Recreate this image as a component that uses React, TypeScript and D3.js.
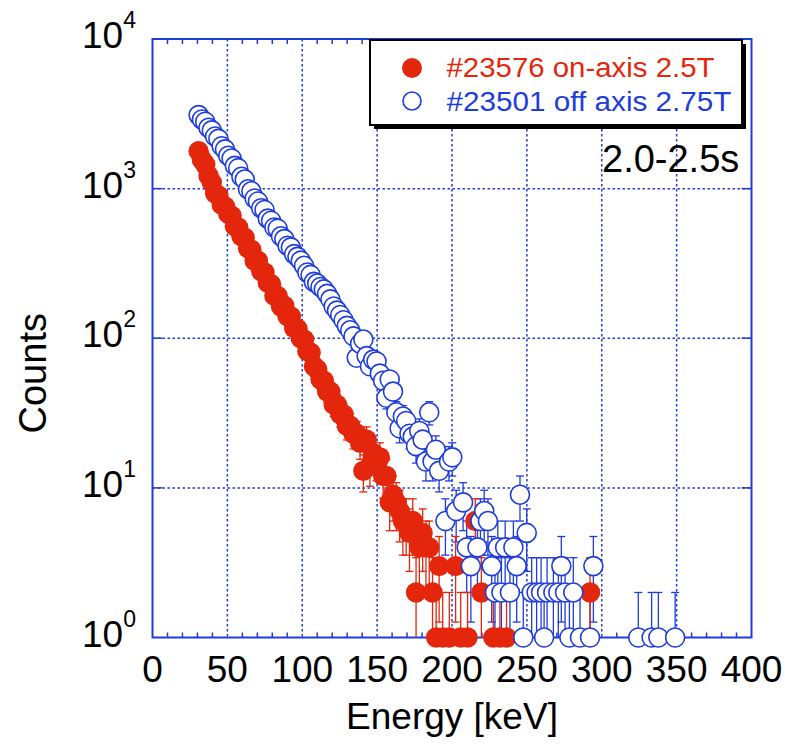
import React from "react";
import * as d3 from "d3";

const redEnergy = [30.8,33.0,35.2,37.4,39.6,41.8,44.0,46.2,48.4,50.6,52.8,55.0,57.2,59.4,61.6,63.8,66.0,68.2,70.4,72.6,74.8,77.0,79.2,81.4,83.6,85.8,88.0,90.2,92.4,94.6,96.8,99.0,101.2,103.4,105.6,107.8,110.0,112.2,114.4,116.6,118.8,121.0,123.2,125.4,127.6,129.8,132.0,134.2,136.4,138.6,140.8,143.0,145.2,147.4,149.6,151.8,154.0,156.2,158.4,160.6,162.8,165.0,167.2,169.4,171.6,173.8,176.0,178.2,180.4,182.6,184.8,187.0,189.4,191.4,193.8,198.2,202.4,205.8,210.4,215.6,219.6,227.6,232.0,236.4,292.2];
const redCounts = [1780,1560,1450,1220,1100,930,900,780,760,680,660,560,550,480,470,400,390,330,330,280,275,235,230,192,192,163,165,140,140,117,116,100,98,82,80,65,62,53,52,44,44,36,36,31,31,26,26,23,23,20,13,21,14,17,15,16,12,12,8,9,8,7,6,6,5,6,2,4,5,4,4,2,1,3,1,1,3,1,1,6,2,1,1,1,2];

const blueEnergy = [30.8,33.0,35.2,37.4,39.6,41.8,44.0,46.2,48.4,50.6,52.8,55.0,57.2,59.4,61.6,63.8,66.0,68.2,70.4,72.6,74.8,77.0,79.2,81.4,83.6,85.8,88.0,90.2,92.4,94.6,96.8,99.0,101.2,103.4,105.6,107.8,110.0,112.2,114.4,116.6,118.8,121.0,123.2,125.4,127.6,129.8,132.0,134.2,136.4,138.6,140.8,143.0,145.2,147.4,149.6,151.8,154.0,156.2,158.4,160.6,162.8,165.0,167.2,169.4,171.6,173.8,176.0,178.2,180.4,182.6,184.8,187.0,189.2,191.4,195.6,198.0,200.2,202.8,207.4,209.8,212.6,217.0,219.0,221.5,224.0,226.5,228.7,230.6,233.0,235.5,238.7,241.0,243.2,245.4,247.6,249.9,253.2,256.5,259.5,261.5,263.5,267.7,271.0,273.0,275.5,278.4,281.0,285.5,292.2,294.4,324.4,333.3,337.8,349.0];
const blueCounts = [3100,2900,2800,2550,2450,2230,2150,1920,1830,1660,1590,1420,1370,1200,1150,990,960,860,820,740,720,630,610,550,540,480,460,415,405,365,350,330,305,275,265,238,232,220,212,198,182,163,153,143,132,121,113,103,74,92,98,76,65,72,70,58,52,40,53,44,32,25,30,28,23,22,19,24,21,15,32,15,18,13,6,15,16,7,8,4,3,4,6,7,6,3,2,4,2,4,2,4,3,9,1,5,2,2,2,1,2,2,2,3,2,1,2,1,1,3,1,1,1,1];

const xTicks = [0, 50, 100, 150, 200, 250, 300, 350, 400];
const xMinor = [10,20,30,40,60,70,80,90,110,120,130,140,160,170,180,190,210,220,230,240,260,270,280,290,310,320,330,340,360,370,380,390];
const yExponents = [0, 1, 2, 3, 4];

const legendLabels = ["#23576 on-axis 2.5T", "#23501 off axis 2.75T"];
const timeLabel = "2.0-2.5s";
const xTitle = "Energy [keV]";
const yTitle = "Counts";

const RED = "#E4260C";
const BLUE = "#1E3CDC";
const FONT = "'Liberation Sans', Arial, Helvetica, sans-serif";

const L = 152.5, R = 751.5, T = 39, B = 637.5;

export default function App() {
  const x = d3.scaleLinear().domain([0, 400]).range([L, R]);
  const y = d3.scaleLog().domain([1, 10000]).range([B, T]);

  const mk = (es: number[], cs: number[]) => es.map((e, i) => ({ e, c: cs[i] }));
  const red = mk(redEnergy, redCounts);
  const blue = mk(blueEnergy, blueCounts);

  const errBars = (data: { e: number; c: number }[], color: string, key: string) =>
    data.map((d, i) => {
      const s = Math.sqrt(d.c);
      const up = y(d.c + s);
      const lo = y(Math.max(d.c - s, 1));
      const cx = x(d.e);
      return (
        <g key={key + i} stroke={color} strokeWidth={1.3}>
          <line x1={cx} x2={cx} y1={up} y2={lo} />
          <line x1={cx - 4} x2={cx + 4} y1={up} y2={up} />
          {d.c - s >= 1 && <line x1={cx - 4} x2={cx + 4} y1={lo} y2={lo} />}
        </g>
      );
    });

  return (
    <svg width={785} height={744} style={{ position: "absolute", left: 0, top: 0, background: "#fff" }} fontFamily={FONT}>
      {/* grid */}
      <g stroke={BLUE} strokeWidth={1.5} strokeDasharray="2.5,2.5">
        {xTicks.slice(1, -1).map((t) => (
          <line key={"gx" + t} x1={x(t)} x2={x(t)} y1={T} y2={B} />
        ))}
        {yExponents.slice(1, -1).map((p) => (
          <line key={"gy" + p} x1={L} x2={R} y1={y(Math.pow(10, p))} y2={y(Math.pow(10, p))} />
        ))}
      </g>
      {/* ticks */}
      <g stroke={BLUE} strokeWidth={1.5}>
        {xMinor.map((t) => (
          <g key={"mx" + t}>
            <line x1={x(t)} x2={x(t)} y1={B} y2={B - 5} />
            <line x1={x(t)} x2={x(t)} y1={T} y2={T + 5} />
          </g>
        ))}
        {yExponents.slice(1, -1).map((p) => (
          <g key={"my" + p}>
            <line x1={L} x2={L + 10} y1={y(Math.pow(10, p))} y2={y(Math.pow(10, p))} />
            <line x1={R} x2={R - 10} y1={y(Math.pow(10, p))} y2={y(Math.pow(10, p))} />
          </g>
        ))}
      </g>
      <rect x={L} y={T} width={R - L} height={B - T} fill="none" stroke={BLUE} strokeWidth={2} />

      {/* tick labels */}
      <g fontSize={37} fill="#000">
        {xTicks.map((t) => (
          <text key={"xl" + t} x={x(t)} y={B + 44} textAnchor="middle">{t}</text>
        ))}
        {yExponents.map((p) => (
          <text key={"yl" + p} x={136} y={y(Math.pow(10, p)) + 9} textAnchor="end">
            10<tspan dy={-20} fontSize={23}>{p}</tspan>
          </text>
        ))}
      </g>
      <text x={(L + R) / 2} y={729} textAnchor="middle" fontSize={37}>{xTitle}</text>
      <text transform={`translate(46,${(T + B) / 2 + 35}) rotate(-90)`} textAnchor="middle" fontSize={38}>{yTitle}</text>

      {/* data */}
      {errBars(blue, BLUE, "eb")}
      {errBars(red, RED, "er")}
      {red.map((d, i) => (
        <circle key={"r" + i} cx={x(d.e)} cy={y(d.c)} r={10.2} fill={RED} />
      ))}
      {blue.map((d, i) => (
        <circle key={"b" + i} cx={x(d.e)} cy={y(d.c)} r={9.5} fill="#fff" stroke={BLUE} strokeWidth={1.6} />
      ))}

      {/* legend */}
      <rect x={374} y={44} width={372} height={85} fill="#000" />
      <rect x={370} y={40} width={372} height={85} fill="#fff" stroke="#000" strokeWidth={2} />
      <circle cx={412} cy={68} r={10} fill={RED} />
      <circle cx={412} cy={101} r={9} fill="#fff" stroke={BLUE} strokeWidth={1.6} />
      <text x={446.5} y={77} fontSize={27} fill={RED} textLength={268} lengthAdjust="spacingAndGlyphs">{legendLabels[0]}</text>
      <text x={446.5} y={110.5} fontSize={27} fill={BLUE} textLength={285} lengthAdjust="spacingAndGlyphs">{legendLabels[1]}</text>

      <text x={602} y={172} fontSize={38} fill="#000">{timeLabel}</text>
    </svg>
  );
}
